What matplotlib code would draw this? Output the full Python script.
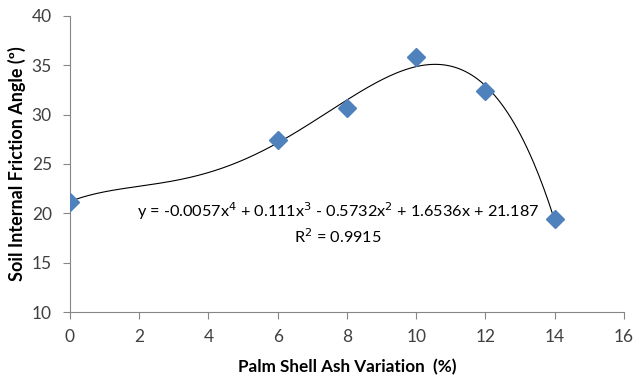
import matplotlib.pyplot as plt
import numpy as np

plt.rcParams['font.family'] = ['Lato', 'DejaVu Sans']

ash = [0, 6, 8, 10, 12, 14]
angle = [21.2, 27.4, 30.7, 35.8, 32.4, 19.4]
eq_text = "y = -0.0057x$^4$ + 0.111x$^3$ - 0.5732x$^2$ + 1.6536x + 21.187\nR$^2$ = 0.9915"

fig = plt.figure(figsize=(6.36, 3.77), dpi=100)
ax = fig.add_axes([0.110, 0.172, 0.871, 0.786])

# 4th order polynomial trendline fitted to the points
coef = np.polyfit(ash, angle, 4)
xs = np.linspace(min(ash), max(ash), 300)
ax.plot(xs, np.polyval(coef, xs), color='black', lw=0.8)
ax.plot(ash, angle, 'D', color='#4F81BD', markersize=9, zorder=3)

ax.text(7.75, 19.0, eq_text, ha='center', va='center', fontsize=11.7, linespacing=1.3)

ax.set_xlim(0, 16)
ax.set_ylim(10, 40)
ax.set_xticks(range(0, 17, 2))
ax.set_yticks(range(10, 41, 5))
ax.set_xlabel('Palm Shell Ash Variation  (%)', fontsize=12.3, fontweight='bold', labelpad=10)
ax.set_ylabel('Soil Internal Friction Angle (\u00ba)', fontsize=13, fontweight='bold', labelpad=4)

for s in ['top', 'right']:
    ax.spines[s].set_visible(False)
for s in ['left', 'bottom']:
    ax.spines[s].set_color('#868686')
ax.tick_params(colors='#868686', labelcolor='#404040', labelsize=12.5, length=5, direction='out')
ax.tick_params(axis='y', pad=8)
ax.tick_params(axis='x', pad=7)

fig.savefig('out.png', dpi=100)
